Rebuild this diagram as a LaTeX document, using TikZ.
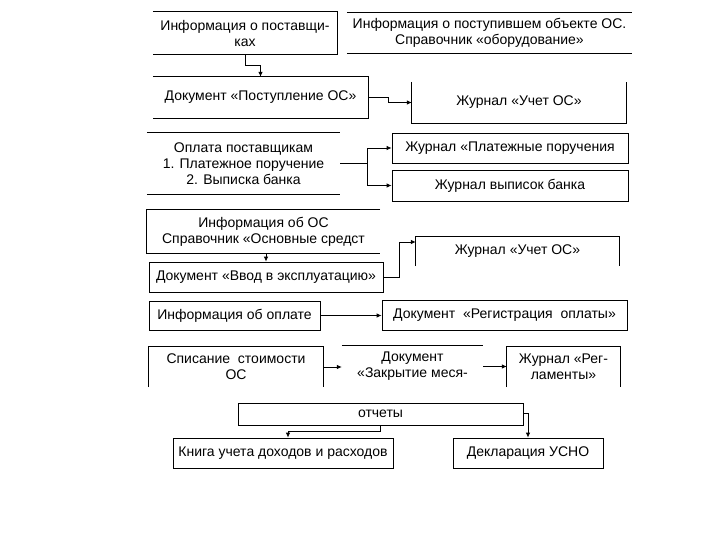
\documentclass[tikz,border=0pt]{standalone}
\usepackage{fontspec}
\setmainfont{Liberation Sans}
\usetikzlibrary{arrows.meta,positioning,calc}
\tikzset{
  font=\fontsize{14}{16}\selectfont,
  card/.style={
    inner sep=0pt,
    align=center
  },
  box/.style={
    card,
    draw=black,
    line width=0.8pt
  },
  rule/.style={
    draw=black,
    line width=0.8pt
  },
  arrow/.style={
    -{Latex[length=5pt,width=4.5pt]},
    draw=black,
    line width=0.8pt
  }
}
\begin{document}
\begin{tikzpicture}[x=1pt,y=-1pt]
\fill[white] (0,0) rectangle (720,540);
\useasboundingbox (0,0) rectangle (720,540);

% Receipt of the asset
\node[card, minimum width=184pt, minimum height=42pt] (supp) at (245,33)
  {Информация о поставщи-\\ках};
\node[card, minimum width=285pt, minimum height=40pt] (object) at (489.5,33)
  {Информация о поступившем объекте ОС.\\Справочник «оборудование»};
\node[card, minimum width=215pt, minimum height=41pt] (receipt) at (260.5,97.5)
  {\raisebox{3pt}{Документ «Поступление ОС»}};
\node[card, minimum width=214pt, minimum height=41pt] (journal) at (519,102.5)
  {\raisebox{4pt}{Журнал «Учет ОС»}};

\draw[rule] (supp.north west) -- (supp.north east) -- (supp.south east) -- (supp.south west);
\draw[rule] (object.north west) -- (object.north east);
\draw[rule] (object.south west) -- (object.south east);
\draw[rule] (receipt.north west) -- (receipt.north east) -- (receipt.south east) -- (receipt.south west);
\draw[rule] (journal.north west) -- (journal.south west) -- (journal.south east) -- (journal.north east);

\draw[arrow] (supp.south) -- ++(0,11) -| (receipt.north);
\draw[arrow] (receipt.east) -- ++(20,0) |- (journal.west);

% Payment to suppliers
\node[card, minimum width=193pt, minimum height=61pt] (payment) at (243.5,163.5)
  {Оплата поставщикам\\1. Платежное поручение\\2. Выписка банка};
\node[box, minimum width=236pt, minimum height=30pt] (orders) at (510,148)
  {Журнал «Платежные поручения};
\node[box, minimum width=236pt, minimum height=31pt] (bank) at (510,185.5)
  {Журнал выписок банка};

\draw[rule] (payment.north west) -- (payment.north east);
\draw[rule] (payment.south west) -- (payment.south east);

\draw[rule] (payment.east) -- ++(27,0) coordinate (split);
\draw[arrow] (split) |- (orders.west);
\draw[arrow] (split) |- (bank.west);

% Putting into service
\node[card, minimum width=233pt, minimum height=43pt] (assets) at (263.5,231.5)
  {Информация об ОС\\Справочник «Основные средст};
\node[box, minimum width=234pt, minimum height=30pt] (service) at (266,277)
  {Документ «Ввод в эксплуатацию»};
\node[card, minimum width=203pt, minimum height=29pt] (journal2) at (517.5,251.5)
  {\raisebox{3pt}{Журнал «Учет ОС»}};

\draw[rule] (assets.north east) -- (assets.north west) -- (assets.south west) -- (assets.south east);
\draw[rule] (journal2.south west) -- (journal2.north west) -- (journal2.north east) -- (journal2.south east);

\draw[arrow] (assets.south -| service.north) -- (service.north);
\draw[arrow] (service.east) -- ++(16,0) |- ([yshift=9.5pt]journal2.west);

% Registration of the payment
\node[box, minimum width=171pt, minimum height=29pt] (payinfo) at (234.5,315.5)
  {Информация об оплате};
\node[box, minimum width=245pt, minimum height=30pt] (register) at (504.5,315)
  {Документ\ \ «Регистрация\ \ оплаты»};

\draw[arrow] (payinfo.east) -- (payinfo.east -| register.west);

% Month closing
\node[card, minimum width=174pt, minimum height=40pt] (writeoff) at (236,367)
  {Списание\ \ стоимости\\ОС};
\node[card, minimum width=141pt, minimum height=41pt] (closing) at (412.5,366.5)
  {Документ\\«Закрытие меся-};
\node[card, minimum width=113pt, minimum height=40pt] (rules) at (563.5,367)
  {Журнал «Рег-\\ламенты»};

\draw[rule] (writeoff.south west) -- (writeoff.north west) -- (writeoff.north east) -- (writeoff.south east);
\draw[rule] (closing.north west) -- (closing.north east);
\draw[rule] (rules.south west) -- (rules.north west) -- (rules.north east) -- (rules.south east);

\draw[arrow] (writeoff.east) -- (writeoff.east -| closing.west);
\draw[arrow] (closing.east) -- (closing.east -| rules.west);

% Reports
\node[box, minimum width=285pt, minimum height=22pt] (reports) at (380.5,414)
  {отчеты};
\node[box, minimum width=220pt, minimum height=30pt] (book) at (283,453)
  {Книга учета доходов и расходов};
\node[box, minimum width=150pt, minimum height=30pt] (usno) at (528,453)
  {Декларация УСНО};

\draw[arrow] (reports.south) -- ++(0,6) -| ([xshift=5pt]book.north);
\draw[arrow] ([yshift=1pt]reports.east) -| (usno.north);

\end{tikzpicture}
\end{document}
